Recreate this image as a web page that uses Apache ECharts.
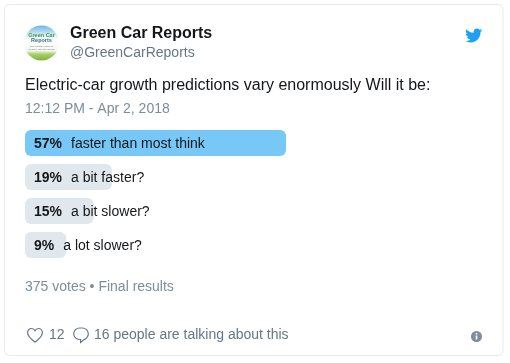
<!DOCTYPE html>
<html><head><meta charset="utf-8">
<style>html,body{margin:0;padding:0;background:#fff}#c{width:510px;height:363px}</style>
<script src="https://cdn.jsdelivr.net/npm/echarts@6/dist/echarts.min.js"></script>
</head><body><div id="c"></div>
<script>
const categories = ['faster than most think','a bit faster?','a bit slower?','a lot slower?'];
const values = [57,19,15,9];
const accountName = 'Green Car Reports';
const handle = '@GreenCarReports';
const tweetText = 'Electric-car growth predictions vary enormously Will it be:';
const timestamp = '12:12 PM - Apr 2, 2018';
const votesText = '375 votes • Final results';
const likes = '12';
const talking = '16 people are talking about this';

const FONT = '"Liberation Sans", Arial, Helvetica, sans-serif';
const bird = 'M23.643 4.937c-.835.37-1.732.62-2.675.738.962-.576 1.7-1.49 2.048-2.578-.9.534-1.897.922-2.958 1.13-.85-.904-2.06-1.47-3.4-1.47-2.572 0-4.658 2.086-4.658 4.66 0 .364.042.718.12 1.06-3.873-.195-7.304-2.05-9.602-4.868-.4.69-.63 1.49-.63 2.342 0 1.616.823 3.043 2.072 3.878-.764-.025-1.482-.234-2.11-.583v.06c0 2.257 1.605 4.14 3.737 4.568-.392.106-.803.162-1.227.162-.3 0-.593-.028-.877-.082.593 1.85 2.313 3.198 4.352 3.234-1.595 1.25-3.604 1.995-5.786 1.995-.376 0-.747-.022-1.112-.065 2.062 1.323 4.51 2.093 7.14 2.093 8.57 0 13.255-7.098 13.255-13.254 0-.2-.005-.4-.014-.6.91-.658 1.7-1.477 2.323-2.41z';
const heart = 'M8 14.6C5 12.3 0.6 9 0.6 5.2 0.6 2.7 2.5 1 4.5 1 6 1 7.3 1.9 8 3.3 8.7 1.9 10 1 11.5 1c2 0 3.9 1.7 3.9 4.2C15.4 9 11 12.3 8 14.6z';
const bubble = 'M6.6 1h2.8c3.2 0 5.9 2.5 5.9 5.7 0 3-2.2 5-4.6 6.2L7.6 15.4v-2.9H6.6C3.3 12.5 .7 10 .7 6.7 .7 3.5 3.3 1 6.6 1z';

echarts.graphic.registerShape('birdIcon', echarts.graphic.extendPath(bird, {}));
echarts.graphic.registerShape('heartIcon', echarts.graphic.extendPath(heart, {}));
echarts.graphic.registerShape('bubbleIcon', echarts.graphic.extendPath(bubble, {}));

function txt(x,y,text,size,fill,weight,align){
  return {type:'text',x,y,silent:true,z:5,style:{text,x:0,y:0,fill,font:(weight||'normal')+' '+size+'px '+FONT,verticalAlign:'middle',align:align||'left'}};
}
const graphic = [
  {type:'rect',z:0,silent:true,shape:{x:4.5,y:4.5,width:498.5,height:351,r:5},style:{fill:'#fff',stroke:'#e6ebef',lineWidth:1}},
  {type:'circle',z:1,silent:true,shape:{cx:41.5,cy:43,r:17.5},style:{fill:{type:'linear',x:0,y:0,x2:0,y2:1,colorStops:[{offset:0,color:'#6db6e6'},{offset:.28,color:'#dcecf4'},{offset:.4,color:'#ffffff'},{offset:.72,color:'#f4f7ee'},{offset:.82,color:'#a9cf68'},{offset:1,color:'#7fb03f'}]}}},
  txt(41.5,35.5,'Green Car',5.5,'#3d9a45','bold','center'),
  txt(41.5,40.5,'Reports',5.5,'#2d6e8a','bold','center'),
  txt(41.5,46,'The ultimate guide to',2.5,'#778','normal','center'),
  txt(41.5,49,'cleaner, greener driving',2.5,'#778','normal','center'),
  txt(70,34,accountName,16,'#14171a','bold'),
  txt(70,53,handle,14,'#657786'),
  txt(25,86,tweetText,16,'#14171a'),
  txt(25,109.5,timestamp,14,'#7d8d9a'),
  txt(25,287,votesText,14,'#7d8d9a'),
  txt(49,335.5,likes,14,'#657786'),
  txt(94,335.5,talking,14,'#657786'),
  {type:'birdIcon',z:3,silent:true,x:464.5,y:26.5,scaleX:.75,scaleY:.75,style:{fill:'#1da1f2'}},
  {type:'heartIcon',z:3,silent:true,x:27,y:327.5,style:{fill:'none',stroke:'#657786',lineWidth:1.2}},
  {type:'bubbleIcon',z:3,silent:true,x:73,y:327,style:{fill:'none',stroke:'#657786',lineWidth:1.2}},
  {type:'circle',z:3,silent:true,shape:{cx:476.5,cy:336.5,r:5.5},style:{fill:'#7e8d9b'}},
  {type:'rect',z:4,silent:true,shape:{x:475.7,y:335.5,width:1.6,height:4},style:{fill:'#fff'}},
  {type:'rect',z:4,silent:true,shape:{x:475.7,y:333,width:1.6,height:1.5},style:{fill:'#fff'}}
];
const chart = echarts.init(document.getElementById('c'),null,{renderer:'canvas'});
chart.setOption({
  animation:false,
  backgroundColor:'#fff',
  textStyle:{fontFamily:FONT},
  graphic,
  grid:{left:25,top:126,width:458,height:136,containLabel:false},
  xAxis:{type:'value',min:0,max:100,show:false},
  yAxis:{type:'category',data:categories,inverse:true,show:false},
  series:[{
    type:'bar',
    barWidth:26,
    data:values.map((v,i)=>({value:v,itemStyle:{color:i===0?'#77c7f7':'#e1e8ed',borderRadius:6}})),
    label:{
      show:true,
      position:'insideLeft',
      distance:9,
      offset:[0,1],
      formatter:p=>'{p|'+p.value+'%}{t|'+p.name+'}',
      rich:{
        p:{fontWeight:'bold',fontSize:14,color:'#14171a',padding:[0,9,0,0],fontFamily:FONT},
        t:{fontSize:14,color:'#14171a',fontFamily:FONT}
      }
    }
  }]
});
</script></body></html>
